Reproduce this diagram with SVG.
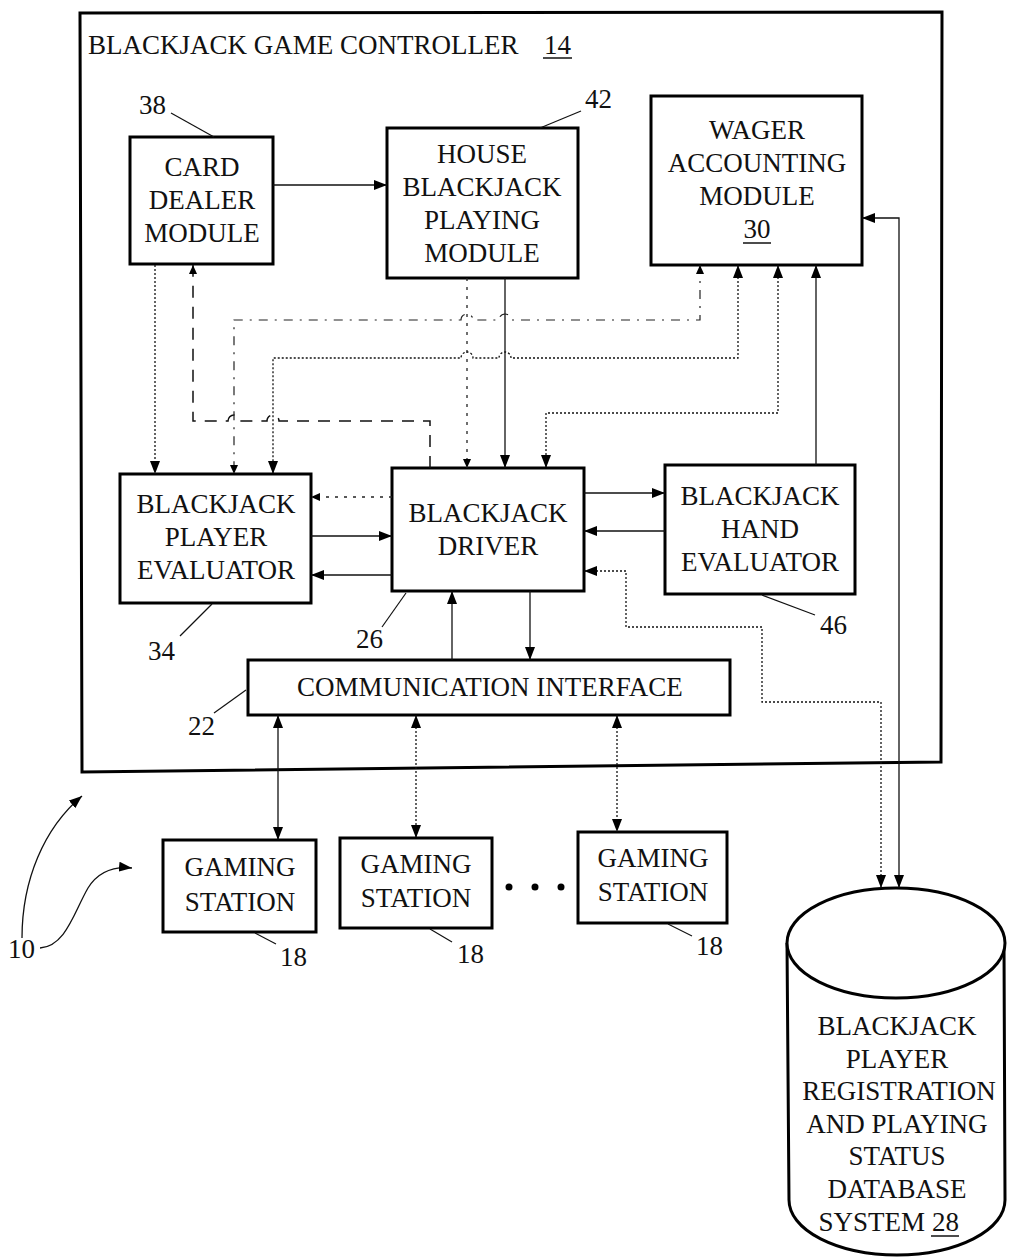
<svg xmlns="http://www.w3.org/2000/svg" width="1010" height="1260" viewBox="0 0 1010 1260">
<style>
  .box{fill:#fff;stroke:#000;stroke-width:3}
  text{font-family:"Liberation Serif","Times New Roman","DejaVu Serif",serif;font-size:27px;fill:#111}
  .t{text-anchor:middle}
  .ln{fill:none;stroke:#111;stroke-width:1.3}
  .dot{fill:none;stroke:#111;stroke-width:1.3;stroke-dasharray:2,2}
  .dash{fill:none;stroke:#111;stroke-width:1.5;stroke-dasharray:12,9}
  .dd{fill:none;stroke:#222;stroke-width:1.2;stroke-dasharray:9,7,2,7}
  .sp{fill:none;stroke:#222;stroke-width:1.3;stroke-dasharray:3,6}
  .lead{fill:none;stroke:#111;stroke-width:1.2}
</style>
<defs>
  <marker id="a" markerUnits="userSpaceOnUse" markerWidth="14" markerHeight="10" refX="13" refY="5" orient="auto-start-reverse">
    <path d="M0,0 L13,5 L0,10 z" fill="#000"/>
  </marker>
  <marker id="s" markerUnits="userSpaceOnUse" markerWidth="10" markerHeight="8" refX="9" refY="4" orient="auto-start-reverse">
    <path d="M0,0 L9,4 L0,8 z" fill="#000"/>
  </marker>
</defs>

<g id="controller">
  <path class="box" d="M80,13 L942,12 L941,762 L82,772 Z" fill="none"/>
  <text x="88" y="54">BLACKJACK GAME CONTROLLER</text>
  <text x="544" y="54">14</text>
  <line x1="543" y1="58" x2="572" y2="58" stroke="#111" stroke-width="1.5"/>
</g>

<g id="card-dealer">
  <rect class="box" x="130" y="137" width="143" height="127"/>
  <text class="t" x="202" y="176">CARD</text>
  <text class="t" x="202" y="209">DEALER</text>
  <text class="t" x="202" y="242">MODULE</text>
  <text x="139" y="114">38</text>
  <path class="lead" d="M171,113 L214,137"/>
</g>

<g id="house">
  <rect class="box" x="387" y="128" width="191" height="150"/>
  <text class="t" x="482" y="163">HOUSE</text>
  <text class="t" x="482" y="196">BLACKJACK</text>
  <text class="t" x="482" y="229">PLAYING</text>
  <text class="t" x="482" y="262">MODULE</text>
  <text x="585" y="108">42</text>
  <path class="lead" d="M581,111 L540,128"/>
</g>

<g id="wager">
  <rect class="box" x="651" y="96" width="211" height="169"/>
  <text class="t" x="757" y="139">WAGER</text>
  <text class="t" x="757" y="172">ACCOUNTING</text>
  <text class="t" x="757" y="205">MODULE</text>
  <text class="t" x="757" y="238">30</text>
  <line x1="743" y1="243" x2="771" y2="243" stroke="#111" stroke-width="1.5"/>
</g>

<g id="player-evaluator">
  <rect class="box" x="120" y="474" width="191" height="129"/>
  <text class="t" x="216" y="513">BLACKJACK</text>
  <text class="t" x="216" y="546">PLAYER</text>
  <text class="t" x="216" y="579">EVALUATOR</text>
  <text x="148" y="660">34</text>
  <path class="lead" d="M180,636 L212,604"/>
</g>

<g id="driver">
  <rect class="box" x="392" y="468" width="192" height="123"/>
  <text class="t" x="488" y="522">BLACKJACK</text>
  <text class="t" x="488" y="555">DRIVER</text>
  <text x="356" y="648">26</text>
  <path class="lead" d="M382,627 L406,593"/>
</g>

<g id="hand-evaluator">
  <rect class="box" x="665" y="465" width="190" height="129"/>
  <text class="t" x="760" y="505">BLACKJACK</text>
  <text class="t" x="760" y="538">HAND</text>
  <text class="t" x="760" y="571">EVALUATOR</text>
  <text x="820" y="634">46</text>
  <path class="lead" d="M762,595 L815,615"/>
</g>

<g id="comm-interface">
  <rect class="box" x="248" y="660" width="482" height="55"/>
  <text class="t" x="490" y="696">COMMUNICATION INTERFACE</text>
  <text x="188" y="735">22</text>
  <path class="lead" d="M214,713 L246,690"/>
</g>

<g id="gaming-1">
  <rect class="box" x="163" y="840" width="153" height="92"/>
  <text class="t" x="240" y="876">GAMING</text>
  <text class="t" x="240" y="911">STATION</text>
  <text x="280" y="966">18</text>
  <path class="lead" d="M255,933 L276,944"/>
</g>
<g id="gaming-2">
  <rect class="box" x="340" y="838" width="152" height="90"/>
  <text class="t" x="416" y="873">GAMING</text>
  <text class="t" x="416" y="907">STATION</text>
  <text x="457" y="963">18</text>
  <path class="lead" d="M430,929 L452,942"/>
</g>
<g id="gaming-3">
  <rect class="box" x="578" y="832" width="149" height="91"/>
  <text class="t" x="653" y="867">GAMING</text>
  <text class="t" x="653" y="901">STATION</text>
  <text x="696" y="955">18</text>
  <path class="lead" d="M668,924 L692,936"/>
</g>
<g id="ellipsis">
  <circle cx="509" cy="887" r="3.5" fill="#000"/>
  <circle cx="535" cy="887" r="3.5" fill="#000"/>
  <circle cx="561" cy="887" r="3.5" fill="#000"/>
</g>

<g id="database">
  <path d="M787,943 L789,1200 A108,55 0 0 0 1005,1200 L1004,943" fill="#fff" stroke="#000" stroke-width="3"/>
  <ellipse cx="896" cy="943" rx="109" ry="55" fill="#fff" stroke="#000" stroke-width="3"/>
  <text class="t" x="897" y="1035">BLACKJACK</text>
  <text class="t" x="897" y="1068">PLAYER</text>
  <text class="t" x="899" y="1100">REGISTRATION</text>
  <text class="t" x="897" y="1133">AND PLAYING</text>
  <text class="t" x="897" y="1165">STATUS</text>
  <text class="t" x="897" y="1198">DATABASE</text>
  <text x="925" y="1231" text-anchor="end">SYSTEM</text>
  <text x="932" y="1231">28</text>
  <line x1="931" y1="1236" x2="959" y2="1236" stroke="#111" stroke-width="1.5"/>
</g>

<g id="system-10">
  <text x="8" y="958">10</text>
  <path class="ln" d="M40,948 C66,946 74,912 88,888 C98,872 112,866 132,868" marker-end="url(#a)"/>
  <path class="ln" d="M22,938 C22,880 44,828 82,796" marker-end="url(#a)"/>
</g>

<g id="connectors">
  <path class="ln" d="M273,185 H387" marker-end="url(#a)"/>
  <path class="dot" d="M155,265 V474" marker-end="url(#a)"/>
  <path class="dash" d="M430,468 V421 H279 A6,6 0 0 0 267,421 H240 A6,6 0 0 0 228,421 H193 V265" marker-end="url(#s)"/>
  <path class="dd" d="M700,265 V320 H511 A6,6 0 0 0 499,320 H473 A6,6 0 0 0 461,320 H234 V474" marker-start="url(#s)" marker-end="url(#s)"/>
  <path class="dot" d="M738,265 V358 H511 A6,6 0 0 0 499,358 H473 A6,6 0 0 0 461,358 H273 V474" marker-start="url(#a)" marker-end="url(#a)"/>
  <path class="sp" d="M467,278 V468" marker-end="url(#s)"/>
  <path class="ln" d="M505,278 V468" marker-end="url(#a)"/>
  <path class="dot" d="M778,265 V413 H546 V468" marker-start="url(#a)" marker-end="url(#a)"/>
  <path class="ln" d="M816,465 V265" marker-end="url(#a)"/>
  <path class="ln" d="M584,493 H665" marker-end="url(#a)"/>
  <path class="ln" d="M665,531 H584" marker-end="url(#a)"/>
  <path class="sp" d="M392,497 H311" marker-end="url(#s)"/>
  <path class="ln" d="M311,536 H392" marker-end="url(#a)"/>
  <path class="ln" d="M392,575 H311" marker-end="url(#a)"/>
  <path class="ln" d="M452,660 V591" marker-end="url(#a)"/>
  <path class="ln" d="M530,591 V660" marker-end="url(#a)"/>
  <path class="dot" d="M584,571 H626 V627 H762 V702 H881 V888" marker-start="url(#a)" marker-end="url(#a)"/>
  <path class="ln" d="M862,218 H899 V888" marker-start="url(#a)" marker-end="url(#a)"/>
  <path class="ln" d="M278,715 V840" marker-start="url(#a)" marker-end="url(#a)"/>
  <path class="dot" d="M416,715 V838" marker-start="url(#a)" marker-end="url(#a)"/>
  <path class="dot" d="M617,715 V832" marker-start="url(#a)" marker-end="url(#a)"/>
</g>
</svg>
